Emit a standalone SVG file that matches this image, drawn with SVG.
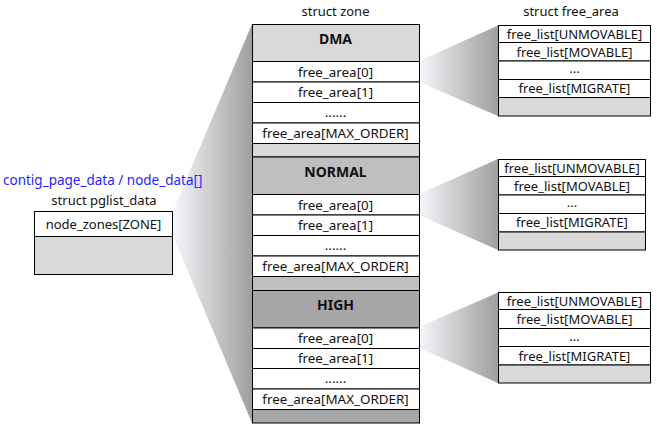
<svg xmlns="http://www.w3.org/2000/svg" width="657" height="426" viewBox="0 0 657 426">
  <defs>
    <linearGradient id="wedge" x1="0" y1="0" x2="1" y2="0">
      <stop offset="0" stop-color="#f6f6fb"/>
      <stop offset="1" stop-color="#9f9f9f"/>
    </linearGradient>
    <style>
      text { font-family: "Noto Sans", "Open Sans", "DejaVu Sans", sans-serif; font-size: 13px; fill: #111; text-anchor: middle; }
      .hdr { font-size: 14px; font-weight: bold; }
      .za { font-size: 13.4px; }
      .blue { fill: #1f1fff; text-anchor: start; font-size: 13.5px; }
      .cell { stroke: #000; stroke-width: 1; }
      .w { fill: #fff; }
      .g1 { fill: #d9d9d9; }
      .g2 { fill: #bfbfbf; }
      .g3 { fill: #a6a6a6; }
      .wedge { fill: url(#wedge); stroke: none; }
    </style>
  </defs>
  <rect width="657" height="426" fill="#fff"/>

  <g id="connectors">
    <polygon class="wedge" points="173,211 252,24 252,423 173,236"/>
    <polygon class="wedge" points="419,61 498,25.5 498,116 419,82"/>
    <polygon class="wedge" points="419,194 498,159 498,250 419,215"/>
    <polygon class="wedge" points="419,327 498,292.5 498,383 419,348"/>
  </g>

  <g id="titles">
    <text x="335.5" y="16">struct zone</text>
    <text x="571" y="16">struct free_area</text>
    <text class="blue" x="3" y="185">contig_page_data / node_data[]</text>
    <text x="104" y="205">struct pglist_data</text>
  </g>

  <g id="pglist_data">
    <rect class="cell w" x="34.5" y="211.5" width="138" height="25"/>
    <rect class="cell g1" x="34.5" y="236.5" width="138" height="38"/>
    <text x="103.5" y="229">node_zones[ZONE]</text>
  </g>

  <g id="zone_dma">
    <rect class="cell g1" x="252.5" y="24.5" width="167" height="37"/>
    <rect class="cell w" x="252.5" y="61.5" width="167" height="20.5"/>
    <rect class="cell w" x="252.5" y="82" width="167" height="20.5"/>
    <rect class="cell w" x="252.5" y="102.5" width="167" height="20.5"/>
    <rect class="cell w" x="252.5" y="123" width="167" height="20.5"/>
    <rect class="cell g1" x="252.5" y="143.5" width="167" height="13.5"/>
    <text class="hdr" x="335.5" y="44">DMA</text>
    <text class="za" x="335.5" y="76.5">free_area[0]</text>
    <text class="za" x="335.5" y="97">free_area[1]</text>
    <text class="za" x="335.5" y="117">......</text>
    <text class="za" x="335.5" y="138">free_area[MAX_ORDER]</text>
  </g>

  <g id="zone_normal">
    <rect class="cell g2" x="252.5" y="157" width="167" height="37.5"/>
    <rect class="cell w" x="252.5" y="194.5" width="167" height="20.5"/>
    <rect class="cell w" x="252.5" y="215" width="167" height="20.5"/>
    <rect class="cell w" x="252.5" y="235.5" width="167" height="20.5"/>
    <rect class="cell w" x="252.5" y="256" width="167" height="20.5"/>
    <rect class="cell g2" x="252.5" y="276.5" width="167" height="14"/>
    <text class="hdr" x="335.5" y="177">NORMAL</text>
    <text class="za" x="335.5" y="209.5">free_area[0]</text>
    <text class="za" x="335.5" y="230">free_area[1]</text>
    <text class="za" x="335.5" y="250">......</text>
    <text class="za" x="335.5" y="271">free_area[MAX_ORDER]</text>
  </g>

  <g id="zone_high">
    <rect class="cell g3" x="252.5" y="290.5" width="167" height="37.5"/>
    <rect class="cell w" x="252.5" y="328" width="167" height="20.5"/>
    <rect class="cell w" x="252.5" y="348.5" width="167" height="20"/>
    <rect class="cell w" x="252.5" y="368.5" width="167" height="20.5"/>
    <rect class="cell w" x="252.5" y="389" width="167" height="20.5"/>
    <rect class="cell g3" x="252.5" y="409.5" width="167" height="13.5"/>
    <text class="hdr" x="335.5" y="310">HIGH</text>
    <text class="za" x="335.5" y="343">free_area[0]</text>
    <text class="za" x="335.5" y="363">free_area[1]</text>
    <text class="za" x="335.5" y="383">......</text>
    <text class="za" x="335.5" y="404">free_area[MAX_ORDER]</text>
  </g>

  <g id="free_area_dma">
    <rect class="cell w" x="498.5" y="25.5" width="152" height="17"/>
    <rect class="cell w" x="498.5" y="42.5" width="152" height="18.5"/>
    <rect class="cell w" x="498.5" y="61" width="152" height="18.5"/>
    <rect class="cell w" x="498.5" y="79.5" width="152" height="18"/>
    <rect class="cell g1" x="498.5" y="97.5" width="152" height="18.5"/>
    <text x="574.5" y="38.5">free_list[UNMOVABLE]</text>
    <text x="574.5" y="56.5">free_list[MOVABLE]</text>
    <text x="574.5" y="73">...</text>
    <text x="574.5" y="93">free_list[MIGRATE]</text>
  </g>

  <g id="free_area_normal">
    <rect class="cell w" x="498.5" y="159.5" width="147" height="17"/>
    <rect class="cell w" x="498.5" y="176.5" width="147" height="18.5"/>
    <rect class="cell w" x="498.5" y="195" width="147" height="18.5"/>
    <rect class="cell w" x="498.5" y="213.5" width="147" height="18.5"/>
    <rect class="cell g1" x="498.5" y="232" width="147" height="18"/>
    <text x="572" y="172.5">free_list[UNMOVABLE]</text>
    <text x="572" y="190.5">free_list[MOVABLE]</text>
    <text x="572" y="207">...</text>
    <text x="572" y="227">free_list[MIGRATE]</text>
  </g>

  <g id="free_area_high">
    <rect class="cell w" x="498.5" y="292.5" width="152" height="17"/>
    <rect class="cell w" x="498.5" y="309.5" width="152" height="19"/>
    <rect class="cell w" x="498.5" y="328.5" width="152" height="18"/>
    <rect class="cell w" x="498.5" y="346.5" width="152" height="18.5"/>
    <rect class="cell g1" x="498.5" y="365" width="152" height="18"/>
    <text x="574.5" y="305.5">free_list[UNMOVABLE]</text>
    <text x="574.5" y="324">free_list[MOVABLE]</text>
    <text x="574.5" y="340.5">...</text>
    <text x="574.5" y="360.5">free_list[MIGRATE]</text>
  </g>
</svg>
